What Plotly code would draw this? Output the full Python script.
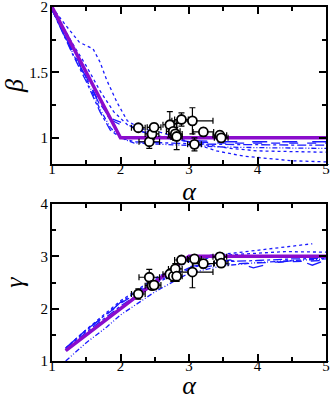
import plotly.graph_objects as go

# ---------------- data ----------------
# theory (purple)
th_beta_a = [1.0, 2.0, 5.0]
th_beta_v = [2.0, 1.0, 1.0]
th_gamma_a = [1.2, 3.0, 5.0]
th_gamma_v = [1.2, 3.0, 3.0]

# simulation curves (blue) for beta
sb1_a = [1.0, 1.2, 1.4, 1.6, 1.7, 1.8, 1.95, 2.1, 2.3, 2.6, 3.0, 3.4, 3.8, 4.1, 4.5, 5.0]
sb1_v = [2.0, 1.86, 1.73, 1.68, 1.58, 1.44, 1.27, 1.13, 1.07, 1.04, 0.97, 0.90, 0.86, 0.845, 0.825, 0.816]
sb2_a = [1.0, 1.3, 1.5, 1.7, 1.9, 2.1, 2.4, 2.8, 3.2, 3.6, 4.0, 4.5, 5.0]
sb2_v = [2.0, 1.72, 1.55, 1.36, 1.2, 1.1, 1.03, 0.99, 0.95, 0.92, 0.90, 0.895, 0.89]
sb3_a = [1.0, 1.3, 1.5, 1.7, 1.85, 2.0, 2.3, 2.6, 3.0, 3.5, 4.0, 4.5, 5.0]
sb3_v = [1.98, 1.66, 1.46, 1.25, 1.14, 1.1, 1.05, 1.0, 0.98, 0.97, 0.97, 0.97, 0.97]
sb4_a = [1.0, 1.3, 1.5, 1.7, 1.85, 2.0, 2.2, 2.6, 3.0, 3.5, 4.0, 4.5, 5.0]
sb4_v = [1.98, 1.64, 1.43, 1.2, 1.06, 1.0, 0.97, 0.96, 0.955, 0.95, 0.945, 0.945, 0.944]
sb5_a = [1.0, 1.3, 1.5, 1.7, 1.85, 2.0, 2.2, 2.6, 3.0, 3.5, 4.0, 4.5, 5.0]
sb5_v = [1.98, 1.65, 1.45, 1.22, 1.08, 1.0, 0.96, 0.95, 0.94, 0.93, 0.925, 0.92, 0.919]
sb6_a = [1.0, 1.3, 1.5, 1.7, 1.85, 2.0, 2.3, 2.7, 3.0, 3.5, 4.0, 4.5, 5.0]
sb6_v = [1.98, 1.67, 1.47, 1.26, 1.15, 1.12, 1.06, 1.0, 0.97, 0.96, 0.96, 0.96, 0.96]

# simulation curves (blue) for gamma
sg1_a = [1.2, 1.5, 2.0, 2.5, 3.0, 3.3, 3.64, 4.0, 4.4, 4.8]
sg1_v = [1.22, 1.58, 2.12, 2.55, 2.92, 3.02, 3.06, 3.12, 3.18, 3.24]
sg2_a = [1.2, 1.5, 2.0, 2.5, 3.0, 3.5, 4.0, 4.4, 5.0]
sg2_v = [1.25, 1.6, 2.15, 2.58, 2.9, 3.02, 3.06, 3.09, 3.08]
sg3_a = [1.2, 1.5, 1.8, 2.0, 2.5, 3.0, 3.6, 3.94, 4.2, 4.6, 4.8, 5.0]
sg3_v = [1.25, 1.6, 1.88, 2.12, 2.5, 2.8, 2.93, 2.78, 2.87, 2.93, 2.83, 2.93]
sg4_a = [1.2, 1.5, 2.0, 2.5, 3.0, 3.5, 4.0, 4.5, 5.0]
sg4_v = [1.2, 1.55, 2.05, 2.48, 2.78, 2.9, 2.92, 2.95, 2.96]
sg5_a = [1.2, 1.5, 1.8, 2.0, 2.5, 3.0, 3.5, 4.0, 4.5, 5.0]
sg5_v = [1.0, 1.35, 1.65, 1.88, 2.32, 2.68, 2.82, 2.88, 2.92, 2.95]
sg6_a = [1.2, 1.5, 1.75, 2.0, 2.5, 3.0, 3.5, 4.0, 4.5, 5.0]
sg6_v = [1.24, 1.6, 1.84, 2.1, 2.5, 2.75, 2.85, 2.88, 2.9, 2.92]

# measured points
alpha     = [2.26, 2.42, 2.46, 2.49, 2.72, 2.77, 2.80, 2.82, 2.89, 3.05, 3.08, 3.21, 3.45, 3.47]
alpha_err = [0.10, 0.15, 0.10, 0.10, 0.10, 0.10, 0.10, 0.08, 0.10, 0.30, 0.10, 0.15, 0.10, 0.10]
beta      = [1.077, 0.97, 1.03, 1.08, 1.10, 1.05, 1.03, 1.01, 1.14, 1.13, 0.95, 1.045, 1.02, 1.00]
beta_err  = [0.02, 0.05, 0.04, 0.03, 0.10, 0.06, 0.05, 0.10, 0.05, 0.10, 0.05, 0.03, 0.03, 0.03]
gamma     = [2.28, 2.60, 2.44, 2.45, 2.66, 2.62, 2.76, 2.62, 2.93, 2.70, 2.95, 2.86, 2.99, 2.87]
gamma_err = [0.10, 0.15, 0.05, 0.06, 0.08, 0.10, 0.10, 0.10, 0.07, 0.30, 0.07, 0.08, 0.07, 0.07]

BLUE = "#1a1aff"
PURPLE = "#8a0ccc"
dashes = ["dot", "dot", "longdash", "dashdot", "5px,2px,1px,2px,1px,2px", "dash"]

fig = go.Figure()

beta_sims = [(sb1_a, sb1_v), (sb2_a, sb2_v), (sb3_a, sb3_v), (sb4_a, sb4_v), (sb5_a, sb5_v), (sb6_a, sb6_v)]
gamma_sims = [(sg1_a, sg1_v), (sg2_a, sg2_v), (sg3_a, sg3_v), (sg4_a, sg4_v), (sg5_a, sg5_v), (sg6_a, sg6_v)]

for (a, v), d in zip(beta_sims, dashes):
    fig.add_trace(go.Scatter(x=a, y=v, mode="lines", line=dict(color=BLUE, width=1.3, dash=d),
                             xaxis="x", yaxis="y", showlegend=False))
for (a, v), d in zip(gamma_sims, dashes):
    fig.add_trace(go.Scatter(x=a, y=v, mode="lines", line=dict(color=BLUE, width=1.3, dash=d),
                             xaxis="x2", yaxis="y2", showlegend=False))

fig.add_trace(go.Scatter(x=th_beta_a, y=th_beta_v, mode="lines", line=dict(color=PURPLE, width=3.5),
                         xaxis="x", yaxis="y", showlegend=False))
fig.add_trace(go.Scatter(x=th_gamma_a, y=th_gamma_v, mode="lines", line=dict(color=PURPLE, width=3.5),
                         xaxis="x2", yaxis="y2", showlegend=False))

marker = dict(symbol="circle", size=9, color="white", line=dict(color="black", width=1.8))
fig.add_trace(go.Scatter(x=alpha, y=beta, mode="markers", marker=marker,
                         error_x=dict(type="data", array=alpha_err, color="black", thickness=1.2, width=3),
                         error_y=dict(type="data", array=beta_err, color="black", thickness=1.2, width=3),
                         xaxis="x", yaxis="y", showlegend=False))
fig.add_trace(go.Scatter(x=alpha, y=gamma, mode="markers", marker=marker,
                         error_x=dict(type="data", array=alpha_err, color="black", thickness=1.2, width=3),
                         error_y=dict(type="data", array=gamma_err, color="black", thickness=1.2, width=3),
                         xaxis="x2", yaxis="y2", showlegend=False))

FONT = "Liberation Serif, Times New Roman, serif"
tickfont = dict(family=FONT, size=15, color="black")
titlefont = dict(family=FONT, size=26, color="black")

def ax(rng, dtick, tick0, minor_dtick, title, domain, anchor, is_x, standoff):
    return dict(range=rng, dtick=dtick, tick0=tick0, domain=domain, anchor=anchor,
                showline=True, linecolor="black", linewidth=2, mirror="allticks",
                ticks="inside", ticklen=7, tickwidth=1.5, tickcolor="black",
                minor=dict(dtick=minor_dtick, tick0=tick0, ticks="inside", ticklen=4, tickwidth=1.5, tickcolor="black"),
                showgrid=False, zeroline=False, tickfont=tickfont, automargin=False,
                ticklabeloverflow="allow",
                ticklabelstandoff=-10 if is_x else -1,
                title=dict(text=title, font=titlefont, standoff=standoff))

fig.update_layout(
    width=332, height=400,
    margin=dict(l=52, r=6, t=7, b=39),
    paper_bgcolor="white", plot_bgcolor="white",
    xaxis=ax([1, 5], 1, 1, 0.5, "<i>α</i>", [0, 1], "y", True, 2),
    yaxis=ax([0.8, 2], 0.5, 0, 0.25, "<i>β</i>", [0.5565, 1], "x", False, 11),
    xaxis2=ax([1, 5], 1, 1, 0.5, "<i>α</i>", [0, 1], "y2", True, 7),
    yaxis2=ax([1, 4], 1, 0, 0.5, "<i>γ</i>", [0, 0.4435], "x2", False, 11),
)

fig.write_html("out.html", config={"displayModeBar": False},
               post_script="document.body.style.margin='0px';")
